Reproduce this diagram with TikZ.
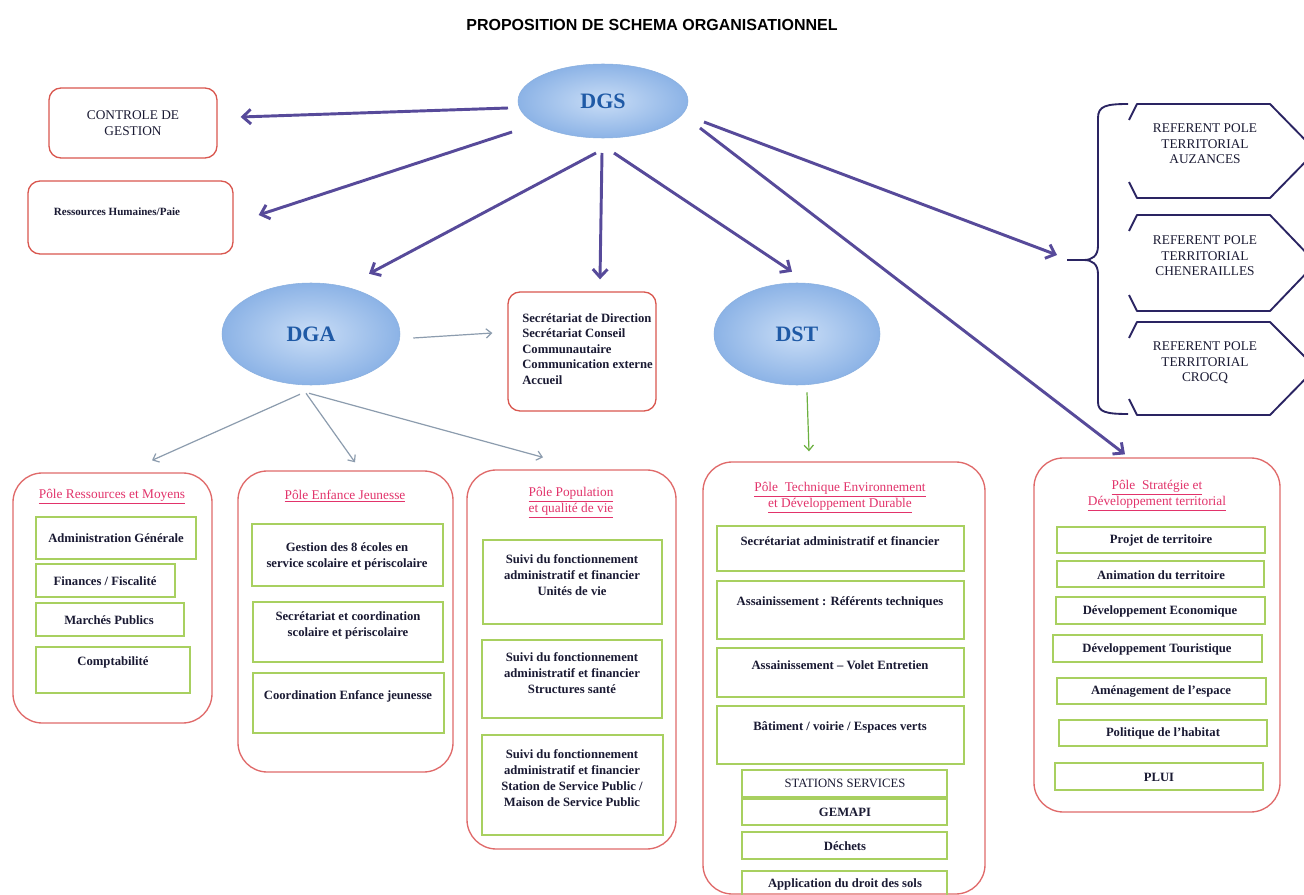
\documentclass[tikz,border=0pt]{standalone}
\usepackage{fontspec}
\setmainfont{Liberation Serif}
\newfontfamily\titlefont{Liberation Sans}
\usetikzlibrary{arrows.meta,shapes.geometric,fit}
\definecolor{purp}{HTML}{574A9A}
\definecolor{grayarr}{HTML}{8C9CAE}
\definecolor{greenarr}{HTML}{6CB040}
\definecolor{redb}{HTML}{D9574F}
\definecolor{poleb}{HTML}{E06A6A}
\definecolor{itemg}{HTML}{A8D060}
\definecolor{txt}{HTML}{1A1A33}
\definecolor{pink}{HTML}{E2336B}
\definecolor{navy}{HTML}{2A2462}
\definecolor{elin}{HTML}{C9DDF6}
\definecolor{elout}{HTML}{8CB3E6}
\definecolor{elborder}{HTML}{8AB0E0}
\definecolor{dblue}{HTML}{1F5AA6}
\tikzset{
 redbox/.style={draw=redb, line width=1pt, rounded corners=9pt, inner sep=0pt},
 polebox/.style={draw=poleb, line width=1pt, rounded corners=22pt, inner sep=0pt},
 itembox/.style={draw=itemg, line width=1.1pt, inner sep=0pt},
 itemtext/.style={text=txt, font=\fontsize{9.5}{12}\selectfont\bfseries, align=center, inner sep=0pt},
 regtext/.style={text=txt, font=\fontsize{10}{11.6}\selectfont, align=center, inner sep=0pt},
 poletitle/.style={text=pink, font=\fontsize{10}{12}\selectfont, align=center, inner sep=0pt},
 ell/.style={ellipse, inner sep=0pt, draw=elborder, line width=0.4pt, shading=radial, inner color=elin, outer color=elout, text=dblue, font=\fontsize{16.5}{18}\selectfont\bfseries},
 bigarrow/.style={draw=purp, line width=2.2pt, -{Straight Barb[length=6pt,width=11pt]}},
 grayarrow/.style={draw=grayarr, line width=0.9pt, -{Straight Barb[length=4pt,width=7pt]}},
 greenarrow/.style={draw=greenarr, line width=0.9pt, -{Straight Barb[length=4pt,width=7pt]}},
 hexa/.style={draw=navy, line width=1.4pt, line join=round},
 bracestyle/.style={draw=navy, line width=1.4pt},
}
\begin{document}
\begin{tikzpicture}[x=0.75pt,y=-0.75pt]
\useasboundingbox (0,0) rectangle (1304,895);
\clip (0,0) rectangle (1304,895);
\fill[white] (0,0) rectangle (1304,895);

% title
\node[font=\titlefont\bfseries\fontsize{12}{14}\selectfont, text=black] (title) at (652,25) {PROPOSITION DE SCHEMA ORGANISATIONNEL};

% ellipses
\node[ell, minimum width=127.5pt, minimum height=55.5pt] (dgs) at (603,101) {DGS};
\node[ell, minimum width=133.5pt, minimum height=76.5pt] (dga) at (311,334) {DGA};
\node[ell, minimum width=124.5pt, minimum height=76.5pt] (dst) at (797,334) {DST};

% top-left boxes
\node[redbox, fit={(49,88) (217,158)}] (ctrl) {};
\node[regtext, font=\fontsize{10}{12.5}\selectfont] (ctrlt) at (133,123) {CONTROLE DE\\GESTION};
\node[redbox, fit={(28,181) (233,254)}] (rh) {};
\node[itemtext, font=\fontsize{8.3}{10}\selectfont\bfseries] (rht) at (117,212) {Ressources Humaines/Paie};

% secretariat box
\node[redbox, fit={(508,292) (656,411)}] (secr) {};
\node[itemtext, align=left, anchor=west, font=\fontsize{9.5}{11.6}\selectfont\bfseries] (secrt) at (522,349) {Secrétariat de Direction\\Secrétariat Conseil\\Communautaire\\Communication externe\\Accueil};

% hexagons and brace
\draw[hexa] (1129,120) -- (1137,104) -- (1270,104) -- (1316,151) -- (1270,198) -- (1137,198) -- (1129,182);
\draw[hexa] (1129,231) -- (1137,215) -- (1270,215) -- (1316,263) -- (1270,311) -- (1137,311) -- (1129,295);
\draw[hexa] (1129,338) -- (1137,322) -- (1270,322) -- (1316,368) -- (1270,415) -- (1137,415) -- (1129,399);
\node[regtext] (hex1) at (1205,144) {REFERENT POLE\\TERRITORIAL\\AUZANCES};
\node[regtext] (hex2) at (1205,256) {REFERENT POLE\\TERRITORIAL\\CHENERAILLES};
\node[regtext] (hex3) at (1205,363) {REFERENT POLE\\TERRITORIAL\\CROCQ};
\draw[bracestyle] (1128,104) .. controls (1106,104) and (1098,106) .. (1098,118) -- (1098,246) .. controls (1098,256) and (1092,260) .. (1084,260) -- (1067,260) -- (1084,260) .. controls (1092,260) and (1098,264) .. (1098,274) -- (1098,402) .. controls (1098,412) and (1106,414) .. (1128,414);
\coordinate (bracetip) at (1067,260);

% poles
\node[polebox, fit={(13,473) (212,723)}] (p1) {};
\node[polebox, fit={(238,471) (453,772)}] (p2) {};
\node[polebox, fit={(467,470) (676,849)}] (p3) {};
\node[polebox, fit={(703,462) (985,894)}] (p4) {};
\node[polebox, fit={(1034,458) (1280,812)}] (p5) {};

\node[poletitle] (p1t) at (112,497) {\underline{Pôle Ressources et Moyens}};
\node[poletitle] (p2t) at (345,496) {\underline{Pôle Enfance Jeunesse}};
\node[poletitle] (p3t) at (571,503) {\underline{Pôle Population}\\\underline{et qualité de vie}};
\node[poletitle] (p4t) at (840,498) {\underline{Pôle\ \ Technique Environnement}\\\underline{et Développement Durable}};
\node[poletitle] (p5t) at (1157,496) {\underline{Pôle\ \ Stratégie et}\\\underline{Développement territorial}};

% pole 1 items
\node[itembox, fit={(36,517) (196,559)}] (i11) {};
\node[itemtext] (i11t) at (116,538) {Administration Générale};
\node[itembox, fit={(36,564) (175,597)}] (i12) {};
\node[itemtext] (i12t) at (105,581) {Finances / Fiscalité};
\node[itembox, fit={(36,603) (184,636)}] (i13) {};
\node[itemtext] (i13t) at (109,620) {Marchés Publics};
\node[itembox, fit={(36,647) (190,693)}] (i14) {};
\node[itemtext] (i14t) at (113,662) {Comptabilité};

% pole 2 items
\node[itembox, fit={(252,524) (443,586)}] (i21) {};
\node[itemtext] (i21t) at (347,556) {Gestion des 8 écoles en\\service scolaire et périscolaire};
\node[itembox, fit={(253,602) (443,662)}] (i22) {};
\node[itemtext] (i22t) at (348,625) {Secrétariat et coordination\\scolaire et périscolaire};
\node[itembox, fit={(253,673) (444,733)}] (i23) {};
\node[itemtext] (i23t) at (348,696) {Coordination Enfance jeunesse};

% pole 3 items
\node[itembox, fit={(483,540) (662,624)}] (i31) {};
\node[itemtext] (i31t) at (572,575) {Suivi du fonctionnement\\administratif et financier\\Unités de vie};
\node[itembox, fit={(482,640) (662,718)}] (i32) {};
\node[itemtext] (i32t) at (572,673) {Suivi du fonctionnement\\administratif et financier\\Structures santé};
\node[itembox, fit={(482,735) (663,835)}] (i33) {};
\node[itemtext] (i33t) at (572,778) {Suivi du fonctionnement\\administratif et financier\\Station de Service Public /\\Maison de Service Public};

% pole 4 items
\node[itembox, fit={(717,526) (964,571)}] (i41) {};
\node[itemtext] (i41t) at (840,541) {Secrétariat administratif et financier};
\node[itembox, fit={(717,581) (964,639)}] (i42) {};
\node[itemtext] (i42t) at (840,602) {Assainissement : Référents techniques};
\node[itembox, fit={(717,648) (964,697)}] (i43) {};
\node[itemtext] (i43t) at (840,665) {Assainissement -- Volet Entretien};
\node[itembox, fit={(717,706) (964,764)}] (i44) {};
\node[itemtext] (i44t) at (840,727) {Bâtiment / voirie / Espaces verts};
\node[itembox, fit={(742,770) (947,797)}] (i45) {};
\node[itemtext, font=\fontsize{9.5}{12}\selectfont] (i45t) at (845,783) {STATIONS SERVICES};
\node[itembox, fit={(742,799) (947,825)}] (i46) {};
\node[itemtext] (i46t) at (845,812) {GEMAPI};
\node[itembox, fit={(742,832) (947,859)}] (i47) {};
\node[itemtext] (i47t) at (845,846) {Déchets};
\node[itembox, fit={(742,871) (947,900)}] (i48) {};
\node[itemtext] (i48t) at (845,884) {Application du droit des sols};

% pole 5 items
\node[itembox, fit={(1057,527) (1265,553)}] (i51) {};
\node[itemtext] (i51t) at (1161,540) {Projet de territoire};
\node[itembox, fit={(1057,561) (1264,587)}] (i52) {};
\node[itemtext] (i52t) at (1161,575) {Animation du territoire};
\node[itembox, fit={(1056,597) (1265,624)}] (i53) {};
\node[itemtext] (i53t) at (1160,611) {Développement Economique};
\node[itembox, fit={(1053,635) (1262,662)}] (i54) {};
\node[itemtext] (i54t) at (1157,649) {Développement Touristique};
\node[itembox, fit={(1057,678) (1266,704)}] (i55) {};
\node[itemtext] (i55t) at (1161,691) {Aménagement de l'espace};
\node[itembox, fit={(1059,720) (1267,746)}] (i56) {};
\node[itemtext] (i56t) at (1163,733) {Politique de l'habitat};
\node[itembox, fit={(1055,763) (1263,790)}] (i57) {};
\node[itemtext] (i57t) at (1159,777) {PLUI};

% arrows from DGS
\draw[bigarrow] ([shift={(-95,7)}]dgs.center) -- ([shift={(23,-6)}]ctrl.east);
\draw[bigarrow] ([shift={(-91,31)}]dgs.center) -- ([shift={(25,-2.5)}]rh.east);
\draw[bigarrow] ([shift={(-7,52)}]dgs.center) -- ([shift={(58,-9)}]dga.north);
\draw[bigarrow] ([shift={(-1,52)}]dgs.center) -- ([shift={(18,-12)}]secr.north);
\draw[bigarrow] ([shift={(11,52)}]dgs.center) -- ([shift={(-5,-11)}]dst.north);
\draw[bigarrow] ([shift={(101,21)}]dgs.center) -- ([shift={(-10,-5)}]bracetip);
\draw[bigarrow] ([shift={(97,27)}]dgs.center) -- ([shift={(-32,-3)}]p5.north);

% arrows from DGA
\draw[grayarrow] ([shift={(13,4)}]dga.east) -- ([shift={(-15,-18.5)}]secr.west);
\draw[grayarrow] ([shift={(-11,9)}]dga.south) -- ([shift={(39.5,-12)}]p1.north);
\draw[grayarrow] ([shift={(-5,8)}]dga.south) -- ([shift={(9.5,-8)}]p2.north);
\draw[grayarrow] ([shift={(-2,8)}]dga.south) -- ([shift={(-28.5,-12)}]p3.north);

% arrow from DST
\draw[greenarrow] ([shift={(10,7)}]dst.south) -- ([shift={(-35,-10)}]p4.north);
\end{tikzpicture}
\end{document}
